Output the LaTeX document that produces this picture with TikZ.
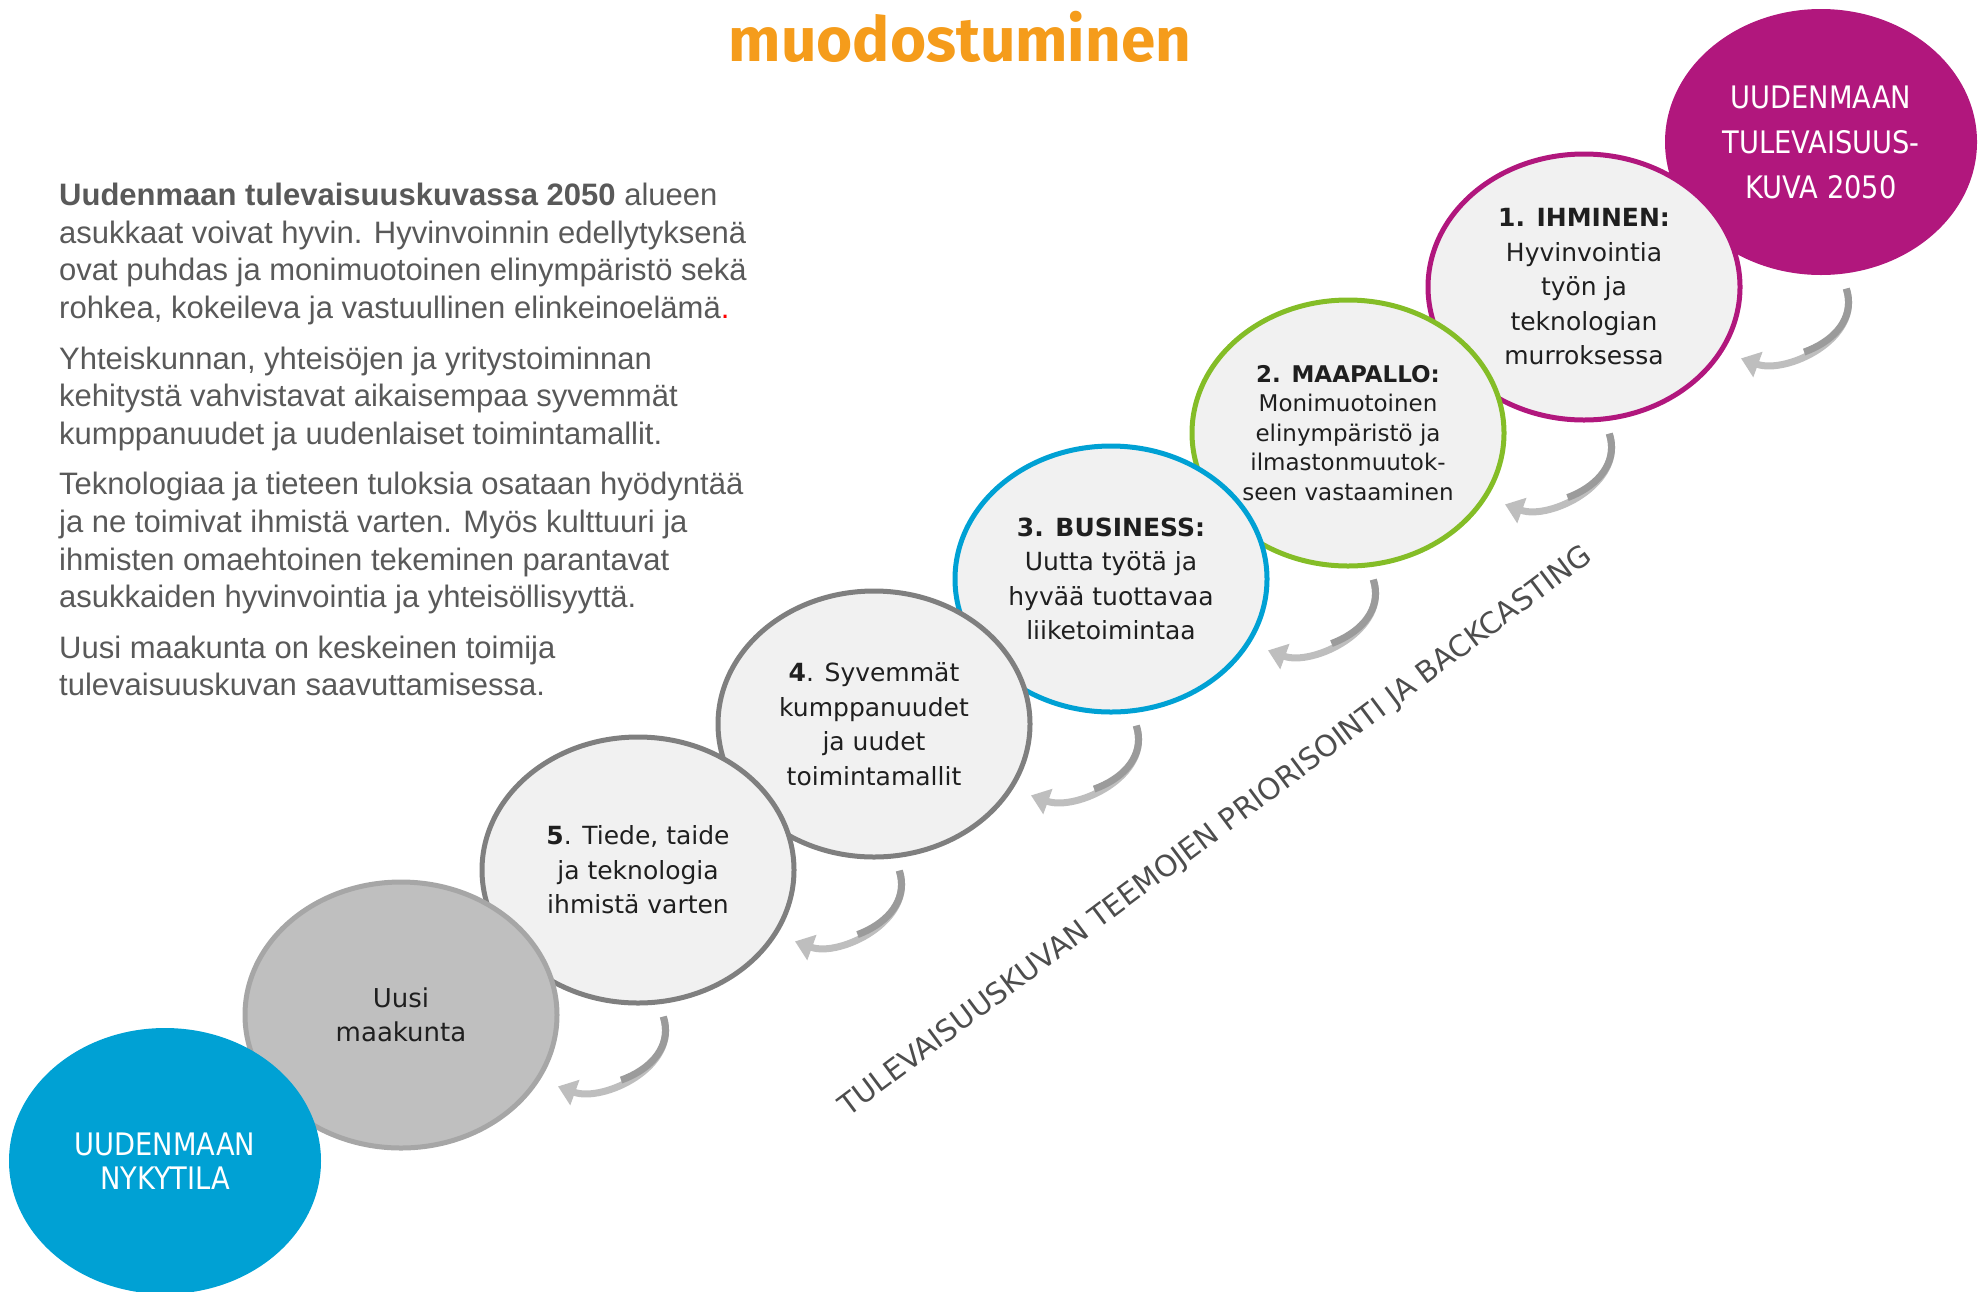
\documentclass[tikz,border=0pt]{standalone}
\usepackage{fontspec}
\usetikzlibrary{shapes.geometric,arrows.meta}

\newfontfamily\bodyfont{Liberation Sans}
\newfontfamily\ellfont{DejaVu Sans}
\newfontfamily\capfont[FakeStretch=0.88]{DejaVu Sans}
\newfontfamily\titlefont{Fira Sans}

\definecolor{titleorange}{RGB}{245,156,27}
\definecolor{bodygray}{RGB}{89,89,89}
\definecolor{nowblue}{RGB}{0,161,212}
\definecolor{futmagenta}{RGB}{177,23,125}
\definecolor{earthgreen}{RGB}{132,189,39}
\definecolor{stepgray}{RGB}{127,127,127}
\definecolor{ellfill}{RGB}{241,241,241}
\definecolor{arrowgray}{RGB}{190,190,190}
\definecolor{arrowdark}{RGB}{155,155,155}

\tikzset{
  stage/.style={ellipse, minimum width=312pt, minimum height=266pt, inner sep=0pt,
    line width=5pt, fill=ellfill, align=center, text=black!88,
    font=\ellfont\fontsize{25}{34.5}\selectfont},
  endstage/.style={stage, text=white, font=\capfont\fontsize{31}{45}\selectfont},
  backarrow/.style={line width=7pt, draw=arrowgray, -{Triangle[width=26pt,length=18pt]},
    shorten <=13pt, shorten >=19pt},
  backarrowtop/.style={line width=7pt, draw=arrowdark, shorten <=13pt,
    dash pattern=on 85pt off 2000pt},
}

\begin{document}
\begin{tikzpicture}[x=1pt,y=-1pt]
    \useasboundingbox (0,0) rectangle (1985,1291);

    % Title
    \node[font=\titlefont\bfseries\fontsize{62}{62}\selectfont, text=titleorange, anchor=base]
        (title) at (960,61) {muodostuminen};

    % Description text on the left
    \node[font=\bodyfont\fontsize{31}{37.6}\selectfont, text=bodygray, align=left,
        anchor=north west, inner sep=0pt] (intro) at (59,183) {%
        \textbf{Uudenmaan tulevaisuuskuvassa 2050} alueen\\
        asukkaat voivat hyvin. Hyvinvoinnin edellytyksenä\\
        ovat puhdas ja monimuotoinen elinympäristö sekä\\
        rohkea, kokeileva ja vastuullinen elinkeinoelämä\textcolor{red}{.}\\[13pt]
        Yhteiskunnan, yhteisöjen ja yritystoiminnan\\
        kehitystä vahvistavat aikaisempaa syvemmät\\
        kumppanuudet ja uudenlaiset toimintamallit.\\[13pt]
        Teknologiaa ja tieteen tuloksia osataan hyödyntää\\
        ja ne toimivat ihmistä varten. Myös kulttuuri ja\\
        ihmisten omaehtoinen tekeminen parantavat\\
        asukkaiden hyvinvointia ja yhteisöllisyyttä.\\[13pt]
        Uusi maakunta on keskeinen toimija\\
        tulevaisuuskuvan saavuttamisessa.};

    % The steps, from the goal down to the present
    \node[endstage, fill=futmagenta] (tulev) at (1821,142) {UUDENMAAN\\TULEVAISUUS-\\KUVA 2050};
    \node[stage, draw=futmagenta] (ihminen) at (1584,287)
        {\textbf{1. IHMINEN:}\\Hyvinvointia\\työn ja\\teknologian\\murroksessa};
    \node[stage, draw=earthgreen, font=\ellfont\fontsize{23}{29.5}\selectfont] (maapallo) at (1348,433)
        {\textbf{2. MAAPALLO:}\\Monimuotoinen\\elinympäristö ja\\ilmastonmuutok-\\seen vastaaminen};
    \node[stage, draw=nowblue] (business) at (1111,579)
        {\textbf{3. BUSINESS:}\\Uutta työtä ja\\hyvää tuottavaa\\liiketoimintaa};
    \node[stage, draw=stepgray] (syvemmat) at (874,724)
        {\textbf{4}. Syvemmät\\kumppanuudet\\ja uudet\\toimintamallit};
    \node[stage, draw=stepgray] (tiede) at (638,870)
        {\textbf{5}. Tiede, taide\\ja teknologia\\ihmistä varten};
    \node[stage, draw={rgb,255:red,166;green,166;blue,166}, fill={rgb,255:red,191;green,191;blue,191},
        font=\ellfont\fontsize{26}{34}\selectfont] (maakunta) at (401,1015) {Uusi\\maakunta};
    \node[endstage, fill=nowblue, font=\capfont\fontsize{31}{34}\selectfont] (nykytila) at (165,1161)
        {UUDENMAAN\\NYKYTILA};

    % Backcasting arrows between the steps
    \draw[backarrow] (tulev.-81) to[out=-72,in=-20,looseness=1.2] (ihminen.-25);
    \draw[backarrow] (ihminen.-81) to[out=-72,in=-20,looseness=1.2] (maapallo.-25);
    \draw[backarrow] (maapallo.-81) to[out=-72,in=-20,looseness=1.2] (business.-25);
    \draw[backarrow] (business.-81) to[out=-72,in=-20,looseness=1.2] (syvemmat.-25);
    \draw[backarrow] (syvemmat.-81) to[out=-72,in=-20,looseness=1.2] (tiede.-25);
    \draw[backarrow] (tiede.-81) to[out=-72,in=-20,looseness=1.2] (maakunta.-25);
    % darker upper half of each arrow
    \draw[backarrowtop] (tulev.-81) to[out=-72,in=-20,looseness=1.2] (ihminen.-25);
    \draw[backarrowtop] (ihminen.-81) to[out=-72,in=-20,looseness=1.2] (maapallo.-25);
    \draw[backarrowtop] (maapallo.-81) to[out=-72,in=-20,looseness=1.2] (business.-25);
    \draw[backarrowtop] (business.-81) to[out=-72,in=-20,looseness=1.2] (syvemmat.-25);
    \draw[backarrowtop] (syvemmat.-81) to[out=-72,in=-20,looseness=1.2] (tiede.-25);
    \draw[backarrowtop] (tiede.-81) to[out=-72,in=-20,looseness=1.2] (maakunta.-25);

    % Diagonal caption
    \node[rotate=36.8, font=\ellfont\fontsize{29.5}{30}\selectfont, text={rgb,255:red,77;green,77;blue,77}]
        (backcast) at (1216,832) {TULEVAISUUSKUVAN TEEMOJEN PRIORISOINTI JA BACKCASTING};
\end{tikzpicture}
\end{document}
